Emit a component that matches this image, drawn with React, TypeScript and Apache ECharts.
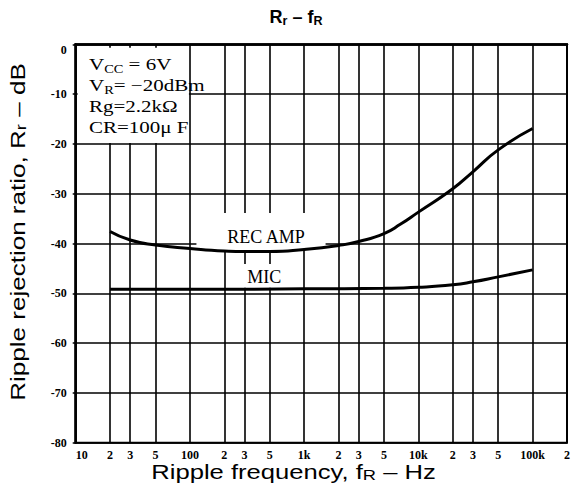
import React, { useEffect, useRef } from "react";
import * as echarts from "echarts";

// ---- axis ticks ----
const xTickFreqs = [10, 20, 30, 50, 100, 200, 300, 500, 1000, 2000, 3000, 5000, 10000, 20000, 30000, 50000, 100000, 200000];
const xTickLabels = ["10", "2", "3", "5", "100", "2", "3", "5", "1k", "2", "3", "5", "10k", "2", "3", "5", "100k", "2"];
const yMin = -80;
const yMax = 0;
const yStep = 10;

// ---- series ----
const recFreq = [20, 30, 50, 100, 200, 300, 500, 1000, 2000, 3000, 5000, 7000, 10000, 20000, 30000, 50000, 100000];
const recVals = [-37.6, -39.3, -40.3, -41.0, -41.5, -41.6, -41.6, -41.2, -40.4, -39.6, -38.0, -36.1, -33.7, -29.0, -25.6, -21.2, -16.9];
const micFreq = [20, 100, 1000, 5000, 10000, 20000, 30000, 50000, 100000];
const micVals = [-49.2, -49.2, -49.1, -49.0, -48.8, -48.3, -47.7, -46.7, -45.3];

// ---- annotation boxes (freq range, dB range) ----
const legendBoxF = [10.4, 98];
const legendBoxV = [-0.7, -19.8];
const recBoxF = [114, 1540];
const recBoxV = [-33.9, -41.5];
const micBoxF = [243, 895];
const micBoxV = [-44.1, -48.9];

const SERIF = "'Liberation Serif', 'Times New Roman', serif";
const SANS = "'Liberation Sans', Arial, sans-serif";

const lg = (f: number) => Math.log10(f);

export default function App() {
  const ref = useRef<HTMLDivElement>(null);
  useEffect(() => {
    if (!ref.current) return;
    const chart = echarts.init(ref.current, undefined, { renderer: "svg" });
    const tickLogs = xTickFreqs.map(lg);
    const fmtX = (v: number) => {
      for (let i = 0; i < tickLogs.length; i++) {
        if (Math.abs(tickLogs[i] - v) < 1e-6) return xTickLabels[i];
      }
      return "";
    };
    const serifRich = {
      t: { fontFamily: SERIF, fontSize: 17.5, lineHeight: 20.8, color: "#000", verticalAlign: "middle" },
      s: { fontFamily: SERIF, fontSize: 12, lineHeight: 20.8, color: "#000", verticalAlign: "bottom" },
    };
    const sansRich = (size: number, sub: number, lh: number, bold = false) => ({
      t: { fontFamily: SANS, fontSize: size, lineHeight: lh, color: "#000", fontWeight: bold ? "bold" : "normal", verticalAlign: "middle" },
      s: { fontFamily: SANS, fontSize: sub, lineHeight: lh, color: "#000", fontWeight: bold ? "bold" : "normal", verticalAlign: "bottom" },
    });

    chart.setOption({
      animation: false,
      grid: {
        left: 75.7,
        right: 3,
        top: 44.3,
        bottom: 48.3,
        show: true,
        borderColor: "#000",
        borderWidth: 2,
        backgroundColor: "transparent",
      },
      xAxis: {
        type: "value",
        min: 1,
        max: lg(200000),
        axisLine: { show: true, lineStyle: { color: "#000", width: 2.5 } },
        axisTick: { show: false, customValues: tickLogs },
        axisLabel: {
          customValues: tickLogs,
          formatter: fmtX,
          margin: 6,
          color: "#000",
          fontFamily: SERIF,
          fontWeight: "bold",
          fontSize: 12,
          alignMinLabel: "left",
          showMinLabel: true,
          showMaxLabel: true,
        },
        splitLine: { show: true, lineStyle: { color: "#000", width: 1.6 } },
      },
      yAxis: {
        type: "value",
        min: yMin,
        max: yMax,
        interval: yStep,
        axisLine: { show: true, lineStyle: { color: "#000", width: 2.5 } },
        axisTick: { show: true, length: 3, lineStyle: { color: "#000", width: 1.5 } },
        axisLabel: {
          formatter: (v: number) => String(v),
          margin: 9,
          color: "#000",
          fontFamily: SERIF,
          fontWeight: "bold",
          fontSize: 12,
          verticalAlignMaxLabel: "top",
        },
        splitLine: { show: true, lineStyle: { color: "#000", width: 1.6 } },
      },
      series: [
        {
          type: "line",
          data: [],
          z: 1,
          silent: true,
          markArea: {
            silent: true,
            itemStyle: { color: "#fff", opacity: 1, borderWidth: 0 },
            label: { show: false },
            data: [
              [
                { xAxis: lg(legendBoxF[0]), yAxis: legendBoxV[0] },
                { xAxis: lg(legendBoxF[1]), yAxis: legendBoxV[1] },
              ],
              [
                {
                  name: "REC AMP",
                  xAxis: lg(recBoxF[0]),
                  yAxis: recBoxV[0],
                  label: { show: true, position: "inside", offset: [5, 5], fontFamily: SERIF, fontSize: 18, color: "#000" },
                },
                { xAxis: lg(recBoxF[1]), yAxis: recBoxV[1] },
              ],
              [
                {
                  name: "MIC",
                  xAxis: lg(micBoxF[0]),
                  yAxis: micBoxV[0],
                  label: { show: true, position: "inside", offset: [-2, 1], fontFamily: SERIF, fontSize: 18, color: "#000" },
                },
                { xAxis: lg(micBoxF[1]), yAxis: micBoxV[1] },
              ],
            ],
          },
        },
        {
          name: "REC AMP",
          type: "line",
          z: 3,
          smooth: 0.55,
          symbol: "none",
          lineStyle: { color: "#000", width: 3 },
          data: recFreq.map((f, i) => [lg(f), recVals[i]]),
        },
        {
          name: "MIC",
          type: "line",
          z: 3,
          smooth: 0.55,
          symbol: "none",
          lineStyle: { color: "#000", width: 3 },
          data: micFreq.map((f, i) => [lg(f), micVals[i]]),
        },
      ],
      graphic: [
        {
          type: "text",
          x: 296,
          y: 17,
          style: {
            text: "{t|R}{s|r}{t| – f}{s|R}",
            rich: sansRich(18, 12.5, 20, true),
            textAlign: "center",
            textVerticalAlign: "middle",
          },
        },
        {
          type: "text",
          x: 293.5,
          y: 472,
          scaleX: 1.22,
          style: {
            text: "{t|Ripple frequency, f}{s|R}{t| – Hz}",
            rich: sansRich(21, 15, 21),
            textAlign: "center",
            textVerticalAlign: "middle",
          },
        },
        {
          type: "text",
          x: 18,
          y: 232,
          rotation: Math.PI / 2,
          scaleX: 1.24,
          style: {
            text: "{t|Ripple rejection ratio, R}{s|r}{t| – dB}",
            rich: sansRich(21, 15, 21),
            textAlign: "center",
            textVerticalAlign: "middle",
          },
        },
        {
          type: "text",
          x: 89,
          y: 54,
          z: 10,
          scaleX: 1.2,
          style: {
            text: "{t|V}{s|CC}{t| = 6V}\n{t|V}{s|R}{t|= −20dBm}\n{t|Rg=2.2kΩ}\n{t|CR=100μ F}",
            rich: serifRich,
            textAlign: "left",
            textVerticalAlign: "top",
          },
        },
      ],
    });
    return () => chart.dispose();
  }, []);
  return <div ref={ref} style={{ width: 573, height: 491, position: "absolute", left: 0, top: 0, background: "#fff" }} />;
}
